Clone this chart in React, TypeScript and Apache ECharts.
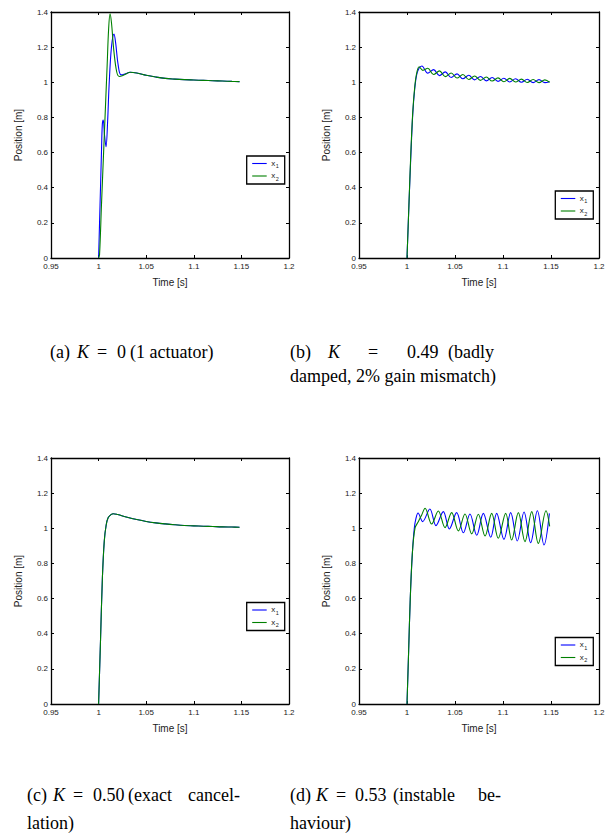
import React, { useEffect, useRef } from "react";
import * as echarts from "echarts";

// axis ranges / ticks
const xMin = 0.95;
const xMax = 1.2;
const xStep = 0.05;
const yMin = 0;
const yMax = 1.4;
const yStep = 0.2;

const seriesNames = ["x1", "x2"];

// (a) K = 0
const aX1: number[][] = [
  [1.0, 0], [1.001, 0.2], [1.002, 0.4], [1.003, 0.6], [1.0039, 0.76], [1.0049, 0.785],
  [1.0062, 0.7], [1.0078, 0.633], [1.0095, 0.78], [1.011, 0.98], [1.0135, 1.2], [1.0162, 1.274],
  [1.018, 1.22], [1.0205, 1.1], [1.0235, 1.042], [1.028, 1.048], [1.033, 1.057], [1.04, 1.053],
  [1.05, 1.04], [1.06, 1.03], [1.07, 1.022], [1.08, 1.018], [1.09, 1.015], [1.1, 1.013],
  [1.11, 1.011], [1.12, 1.009], [1.13, 1.007], [1.14, 1.005], [1.148, 1.004],
];
const aX2: number[][] = [
  [1.0, 0], [1.001, 0.02], [1.003, 0.3], [1.006, 0.7], [1.009, 1.1], [1.0105, 1.3], [1.012, 1.39],
  [1.0135, 1.34], [1.016, 1.18], [1.019, 1.06], [1.0218, 1.033], [1.026, 1.04], [1.033, 1.057],
  [1.04, 1.053], [1.05, 1.04], [1.06, 1.03], [1.07, 1.022], [1.08, 1.018], [1.09, 1.015], [1.1, 1.013],
  [1.11, 1.011], [1.12, 1.009], [1.13, 1.007], [1.14, 1.005], [1.148, 1.004],
];

// (b) K = 0.49
const bX1: number[][] = [
  [1.0, 0], [1.002, 0.3], [1.004, 0.58], [1.006, 0.82], [1.008, 0.96], [1.01, 1.04], [1.0125, 1.08],
  [1.0155, 1.093], [1.0216, 1.052], [1.0277, 1.072], [1.0338, 1.038], [1.0399, 1.059], [1.046, 1.027],
  [1.0521, 1.048], [1.0582, 1.02], [1.0643, 1.04], [1.0704, 1.014], [1.0765, 1.033], [1.0826, 1.008],
  [1.0887, 1.027], [1.0948, 1.005], [1.1009, 1.023], [1.107, 1.002], [1.1131, 1.02], [1.1192, 1.0],
  [1.1253, 1.017], [1.1314, 0.998], [1.1375, 1.015], [1.1436, 0.998], [1.1485, 1.003],
];
const bX2: number[][] = [
  [1.0, 0], [1.002, 0.3], [1.004, 0.6], [1.006, 0.83], [1.008, 0.97], [1.01, 1.05], [1.0127, 1.088],
  [1.0165, 1.068], [1.0216, 1.08], [1.0277, 1.044], [1.0338, 1.065], [1.0399, 1.032], [1.046, 1.053],
  [1.0521, 1.024], [1.0582, 1.044], [1.0643, 1.016], [1.0704, 1.036], [1.0765, 1.011], [1.0826, 1.03],
  [1.0887, 1.007], [1.0948, 1.025], [1.1009, 1.003], [1.107, 1.022], [1.1131, 1.0015], [1.1192, 1.018],
  [1.1253, 0.999], [1.1314, 1.016], [1.1375, 0.998], [1.1436, 1.014], [1.1485, 1.0],
];

// (c) K = 0.50
const cX1: number[][] = [
  [1.0, 0], [1.002, 0.36], [1.004, 0.72], [1.006, 0.93], [1.008, 1.02], [1.01, 1.06], [1.013, 1.078],
  [1.0155, 1.083], [1.02, 1.078], [1.03, 1.063], [1.04, 1.05], [1.05, 1.039], [1.06, 1.031],
  [1.07, 1.025], [1.08, 1.02], [1.09, 1.016], [1.1, 1.014], [1.11, 1.012], [1.12, 1.01],
  [1.13, 1.008], [1.14, 1.007], [1.148, 1.006],
];
const cX2: number[][] = [
  [1.0, 0], [1.002, 0.36], [1.004, 0.72], [1.006, 0.93], [1.008, 1.02], [1.01, 1.06], [1.013, 1.078],
  [1.0155, 1.083], [1.02, 1.078], [1.03, 1.063], [1.04, 1.05], [1.05, 1.039], [1.06, 1.031],
  [1.07, 1.025], [1.08, 1.02], [1.09, 1.016], [1.1, 1.014], [1.11, 1.012], [1.12, 1.01],
  [1.13, 1.008], [1.14, 1.007], [1.148, 1.006],
];

// (d) K = 0.53
const dX1: number[][] = [
  [1.0, 0], [1.0017, 0.3], [1.0034, 0.6], [1.0055, 0.85], [1.0076, 1.0], [1.0095, 1.06], [1.0115, 1.087],
  [1.0163, 1.038], [1.0238, 1.11], [1.0302, 1.015], [1.0378, 1.095], [1.0441, 0.996], [1.0517, 1.089],
  [1.0587, 0.975], [1.0656, 1.081], [1.0726, 0.96], [1.0795, 1.085], [1.0872, 0.949], [1.0934, 1.085],
  [1.101, 0.937], [1.108, 1.089], [1.1149, 0.928], [1.1219, 1.093], [1.1288, 0.918], [1.1358, 1.1],
  [1.1427, 0.905], [1.1483, 1.085],
];
const dX2: number[][] = [
  [1.0, 0], [1.0017, 0.3], [1.0034, 0.6], [1.0055, 0.85], [1.0083, 1.0], [1.012, 1.04], [1.0153, 1.076],
  [1.0188, 1.114], [1.0257, 1.024], [1.0326, 1.098], [1.0396, 1.004], [1.0465, 1.089], [1.0535, 0.985],
  [1.0604, 1.081], [1.0674, 0.968], [1.0743, 1.08], [1.0813, 0.956], [1.0882, 1.085], [1.0951, 0.943],
  [1.1028, 1.085], [1.109, 0.933], [1.116, 1.089], [1.1229, 0.924], [1.1299, 1.095], [1.1368, 0.914],
  [1.1448, 1.1], [1.1486, 1.011],
];

const panelData = [
  [aX1, aX2],
  [bX1, bX2],
  [cX1, cX2],
  [dX1, dX2],
];

const BLUE = "#0000ff";
const GREEN = "#008000";
const SANS = "Liberation Sans, Arial, sans-serif";
const SERIF = "Liberation Serif, Times New Roman, serif";

// layout
const grids = [
  { left: 51, top: 12, width: 238, height: 246 },
  { left: 359, top: 12, width: 240, height: 246 },
  { left: 51, top: 458, width: 238, height: 246 },
  { left: 359, top: 458, width: 240, height: 246 },
];
const legendPos = [
  { x: 246.7, y: 156 },
  { x: 555.3, y: 191 },
  { x: 246.7, y: 602.5 },
  { x: 555.3, y: 637.5 },
];

type Piece = { t: string; x: number; y: number; it?: boolean };
const captions: Piece[] = [
  { t: "(a)", x: 50, y: 352 },
  { t: "K", x: 77, y: 352, it: true },
  { t: "=", x: 97, y: 352 },
  { t: "0", x: 117, y: 352 },
  { t: "(1 actuator)", x: 130, y: 352 },
  { t: "(b)", x: 290, y: 352 },
  { t: "K", x: 328, y: 352, it: true },
  { t: "=", x: 368, y: 352 },
  { t: "0.49", x: 407, y: 352 },
  { t: "(badly", x: 448, y: 352 },
  { t: "damped, 2% gain mismatch)", x: 290, y: 376 },
  { t: "(c)", x: 27, y: 795 },
  { t: "K", x: 53, y: 795, it: true },
  { t: "=", x: 73, y: 795 },
  { t: "0.50", x: 93, y: 795 },
  { t: "(exact", x: 128, y: 795 },
  { t: "cancel-", x: 188, y: 795 },
  { t: "lation)", x: 27, y: 823 },
  { t: "(d)", x: 290, y: 795 },
  { t: "K", x: 316, y: 795, it: true },
  { t: "=", x: 336, y: 795 },
  { t: "0.53", x: 355, y: 795 },
  { t: "(instable", x: 393, y: 795 },
  { t: "be-", x: 478, y: 795 },
  { t: "haviour)", x: 290, y: 823 },
];

function textEl(t: string, x: number, y: number, size: number, family: string, italic = false, fill = "#000") {
  return {
    type: "text",
    x,
    y,
    silent: true,
    style: {
      text: t,
      fontSize: size,
      fontFamily: family,
      fontStyle: italic ? "italic" : "normal",
      fill,
      align: "left",
      verticalAlign: "middle",
      textAlign: "left",
      textVerticalAlign: "middle",
    },
  };
}

function legendEls(px: number, py: number) {
  const els: any[] = [];
  els.push({
    type: "rect",
    silent: true,
    shape: { x: px, y: py, width: 38, height: 28 },
    style: { fill: "#fff", stroke: "#000", lineWidth: 1.3 },
    z: 100,
  });
  const rows = [
    { c: BLUE, s: "1", dy: 7.5 },
    { c: GREEN, s: "2", dy: 20 },
  ];
  rows.forEach((r) => {
    els.push({
      type: "line",
      silent: true,
      shape: { x1: px + 5.5, y1: py + r.dy, x2: px + 20, y2: py + r.dy },
      style: { stroke: r.c, lineWidth: 1.1 },
      z: 101,
    });
    const t1: any = textEl("x", px + 24.5, py + r.dy - 0.5, 8, SANS, false, "#222");
    t1.z = 101;
    const t2: any = textEl(r.s, px + 29, py + r.dy + 2.8, 5.5, SANS, false, "#222");
    t2.z = 101;
    els.push(t1, t2);
  });
  return els;
}

export default function App() {
  const ref = useRef<HTMLDivElement>(null);
  useEffect(() => {
    if (!ref.current) return;
    const chart = echarts.init(ref.current, undefined, { renderer: "svg" });

    const xAxes: any[] = [];
    const yAxes: any[] = [];
    const series: any[] = [];
    const axisLine = { show: true, onZero: false, lineStyle: { color: "#000", width: 1.3 } };
    const axisTick = { show: true, inside: true, length: 3, lineStyle: { color: "#000", width: 1 } };

    grids.forEach((g, gi) => {
      xAxes.push({
        gridIndex: gi,
        type: "value",
        position: "bottom",
        min: xMin,
        max: xMax,
        interval: xStep,
        axisLine,
        axisTick,
        splitLine: { show: false },
        axisLabel: {
          fontSize: 8,
          color: "#222",
          fontFamily: SANS,
          margin: 4.5,
          formatter: (v: number) => String(+v.toFixed(2)),
        },
        name: "Time [s]",
        nameLocation: "middle",
        nameGap: 19,
        nameTextStyle: { fontSize: 10, color: "#222", fontFamily: SANS },
      });
      xAxes.push({
        gridIndex: gi,
        type: "value",
        position: "top",
        min: xMin,
        max: xMax,
        interval: xStep,
        axisLine,
        axisTick,
        splitLine: { show: false },
        axisLabel: { show: false },
      });
      yAxes.push({
        gridIndex: gi,
        type: "value",
        position: "left",
        min: yMin,
        max: yMax,
        interval: yStep,
        axisLine,
        axisTick,
        splitLine: { show: false },
        axisLabel: {
          fontSize: 8,
          color: "#222",
          fontFamily: SANS,
          margin: 3,
          formatter: (v: number) => String(+v.toFixed(1)),
        },
        name: "Position [m]",
        nameLocation: "middle",
        nameGap: 28,
        nameTextStyle: { fontSize: 10, color: "#222", fontFamily: SANS },
      });
      yAxes.push({
        gridIndex: gi,
        type: "value",
        position: "right",
        min: yMin,
        max: yMax,
        interval: yStep,
        axisLine,
        axisTick,
        splitLine: { show: false },
        axisLabel: { show: false },
      });
      const [d1, d2] = panelData[gi];
      [d1, d2].forEach((d, si) => {
        series.push({
          type: "line",
          name: seriesNames[si],
          xAxisIndex: gi * 2,
          yAxisIndex: gi * 2,
          data: d,
          symbol: "none",
          smooth: 0.35,
          lineStyle: { color: si === 0 ? BLUE : GREEN, width: 1.1 },
          itemStyle: { color: si === 0 ? BLUE : GREEN },
          z: 2 + si,
        });
      });
    });

    const graphics: any[] = [];
    legendPos.forEach((p) => graphics.push(...legendEls(p.x, p.y)));
    captions.forEach((c) => graphics.push(textEl(c.t, c.x, c.y, 18, SERIF, !!c.it)));

    chart.setOption({
      animation: false,
      backgroundColor: "#fff",
      grid: grids.map((g) => ({ ...g, containLabel: false })),
      xAxis: xAxes,
      yAxis: yAxes,
      series,
      graphic: graphics,
    });
    return () => chart.dispose();
  }, []);
  return (
    <div
      ref={ref}
      style={{ position: "fixed", left: 0, top: 0, width: 614, height: 833, background: "#fff" }}
    />
  );
}
